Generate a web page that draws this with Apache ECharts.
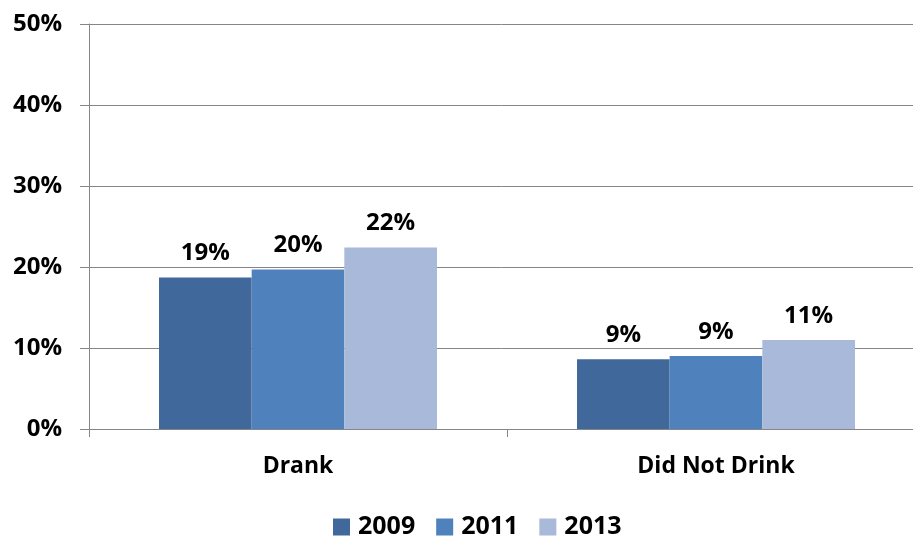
<!DOCTYPE html>
<html>
<head>
<meta charset="utf-8">
<script src="https://cdn.jsdelivr.net/npm/echarts@6/dist/echarts.min.js"></script>
<style>html,body{margin:0;padding:0;background:#fff}#c{width:913px;height:537px}</style>
</head>
<body>
<div id="c"></div>
<script>
const categories = ['Drank', 'Did Not Drink'];
const seriesNames = ['2009', '2011', '2013'];
const values2009 = [18.7, 8.6];
const values2011 = [19.7, 9.0];
const values2013 = [22.4, 11.0];
const yTicks = [0, 10, 20, 30, 40, 50];
const colors = ['#41689A', '#4F81BD', '#A8B9D9'];

const FONT = '"Open Sans", Lato, sans-serif';
const chart = echarts.init(document.getElementById('c'));
const allValues = [values2009, values2011, values2013];
chart.setOption({
  animation: false,
  grid: { left: 89, top: 24, width: 836, bottom: 108, containLabel: false, outerBoundsMode: 'none' },
  legend: {
    top: 510, left: 333, padding: 0,
    itemWidth: 17, itemHeight: 17, itemGap: 21,
    icon: 'rect',
    textStyle: { fontFamily: FONT, fontWeight: 'bold', fontSize: 25, lineHeight: 34, color: '#000', padding: [0,0,0,3] },
    data: seriesNames
  },
  xAxis: {
    type: 'category', data: categories,
    axisLine: { show: true, lineStyle: { color: '#868686', width: 1 } },
    axisTick: { show: true, length: 8, lineStyle: { color: '#868686' } },
    axisLabel: { fontFamily: FONT, fontWeight: 'bold', fontSize: 23, color: '#000', margin: 26 }
  },
  yAxis: {
    type: 'value', min: yTicks[0], max: yTicks[yTicks.length - 1], interval: 10,
    axisLine: { show: true, lineStyle: { color: '#868686' } },
    axisTick: { show: true, length: 9, lineStyle: { color: '#868686' } },
    splitLine: { lineStyle: { color: '#868686', width: 1 } },
    axisLabel: { formatter: v => v + '%', fontFamily: FONT, fontWeight: 'bold', fontSize: 24, color: '#000', margin: 27 }
  },
  series: seriesNames.map((n, i) => ({
    name: n, type: 'bar', data: allValues[i],
    barGap: '0%', barCategoryGap: '33.5%',
    itemStyle: { color: colors[i] },
    label: { show: true, position: 'top', distance: 12, formatter: p => Math.round(p.value) + '%',
      fontFamily: FONT, fontWeight: 'bold', fontSize: 24, color: '#000' }
  }))
});
</script>
</body>
</html>
